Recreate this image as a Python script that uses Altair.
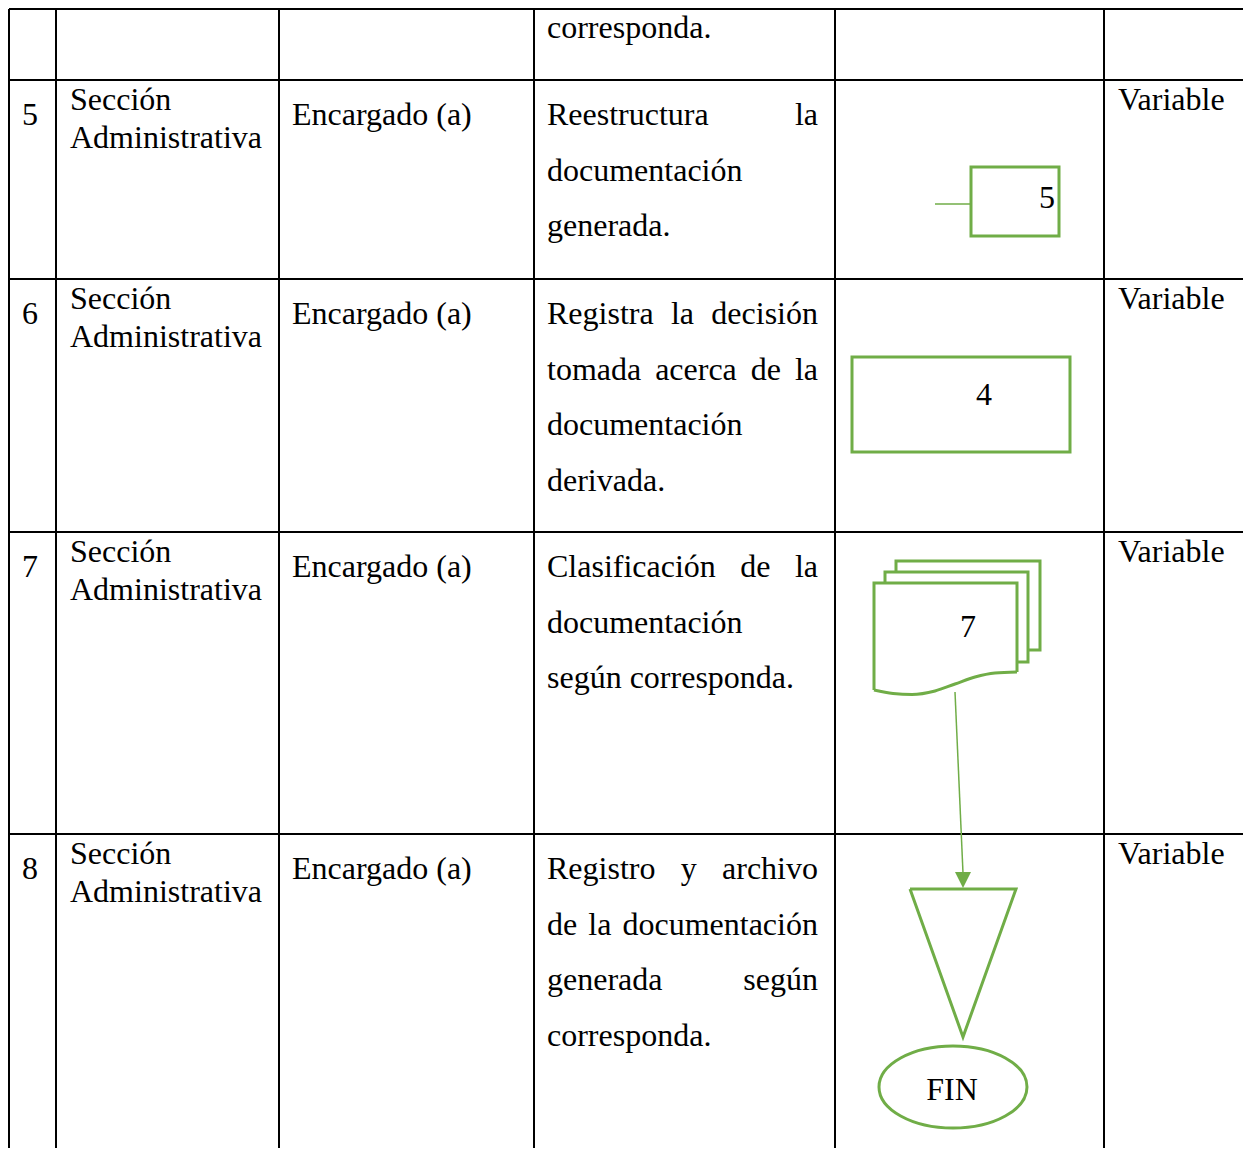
import altair as alt
import pandas as pd

GREEN = "#70AD47"
FONT = "Liberation Serif"
FS = 32

# ---- table structure (pixel positions of the scanned table) ----
col_edges = [9, 56, 279, 534, 835, 1104]
row_edges = [9, 80, 279, 532, 834]
table_right = 1251
table_bottom = 1156

# ---- cell contents ----
steps = ["", "5", "6", "7", "8"]
units = [[], ["Sección", "Administrativa"], ["Sección", "Administrativa"],
         ["Sección", "Administrativa"], ["Sección", "Administrativa"]]
responsible = ["", "Encargado (a)", "Encargado (a)", "Encargado (a)", "Encargado (a)"]
activities = [
    ["corresponda."],
    ["Reestructura la", "documentación", "generada."],
    ["Registra la decisión", "tomada acerca de la", "documentación", "derivada."],
    ["Clasificación de la", "documentación", "según corresponda."],
    ["Registro y archivo", "de la documentación", "generada según", "corresponda."],
]
times = ["", "Variable", "Variable", "Variable", "Variable"]

# ---- flowchart symbols ----
shape_labels = ["5", "4", "7", "FIN"]
shape_label_x = [1047, 984, 968, 952]
shape_label_y = [208, 405, 637, 1100]

boxes_x = [971, 852, 896, 885]
boxes_x2 = [1059, 1070, 1040, 1028]
boxes_y = [167, 357, 561, 572]
boxes_y2 = [236, 452, 650, 662]

doc_fill = dict(x=874, x2=1017, y=583, y2=673)
doc_outline_x = [1017, 1017, 874, 874]
doc_outline_y = [672, 583, 583, 690]
doc_wave_x = [874, 893, 912, 935, 955, 975, 995, 1017]
doc_wave_y = [690, 693.5, 694.5, 691, 684, 677, 673, 672]

tri_x = [910, 1016, 963, 910]
tri_y = [889, 889, 1037, 889]

conn_x = [935, 955]
conn_x2 = [971, 963]
conn_y = [204, 692]
conn_y2 = [204, 873]

arrow_x, arrow_y = [963], [880]
ellipse_x, ellipse_y, ellipse_rx = [953], [1087], 74

# Times New Roman advance widths (per 1000 em) used to justify lines
W = {' ': 250, '(': 333, ')': 333, '.': 250, 'a': 444, 'b': 500, 'c': 444, 'd': 500,
     'e': 444, 'f': 333, 'g': 500, 'h': 500, 'i': 278, 'j': 278, 'k': 500, 'l': 278,
     'm': 778, 'n': 500, 'o': 500, 'p': 500, 'q': 500, 'r': 333, 's': 389, 't': 278,
     'u': 500, 'v': 500, 'w': 722, 'x': 500, 'y': 500, 'z': 444, 'ó': 500, 'ú': 500,
     'A': 722, 'C': 667, 'E': 611, 'F': 556, 'I': 333, 'N': 722, 'R': 667, 'S': 556, 'V': 722}


def wwidth(s):
    return sum(W.get(c, 500) for c in s) * FS / 1000.0


left_txt, center_txt = [], []
ACT_L, ACT_R, ACT_LS = 547, 818, 55.5
for r in range(5):
    top = row_edges[r]
    if steps[r]:
        center_txt.append(dict(x=30, y=top + 45, t=steps[r]))
    for i, line in enumerate(units[r]):
        left_txt.append(dict(x=70, y=top + 30 + 38 * i, t=line))
    if responsible[r]:
        left_txt.append(dict(x=292, y=top + 45, t=responsible[r]))
    if times[r]:
        left_txt.append(dict(x=1118, y=top + 30, t=times[r]))
    lines = activities[r]
    if r == 0:
        base = row_edges[1] - 42 - ACT_LS * (len(lines) - 1)
    else:
        base = top + 45
    for i, line in enumerate(lines):
        y = base + ACT_LS * i
        words = line.split(" ")
        last = i == len(lines) - 1
        if last or len(words) == 1:
            left_txt.append(dict(x=ACT_L, y=y, t=line))
        else:
            tot = sum(wwidth(w) for w in words)
            gap = (ACT_R - ACT_L - tot) / (len(words) - 1)
            xx = ACT_L
            for w in words:
                left_txt.append(dict(x=xx, y=y, t=w))
                xx += wwidth(w) + gap

for t, x, y in zip(shape_labels, shape_label_x, shape_label_y):
    center_txt.append(dict(x=x, y=y, t=t))

# grid segments
segs = []
for cx in col_edges:
    segs.append(dict(x=cx, x2=cx, y=row_edges[0], y2=table_bottom))
for ry in row_edges:
    segs.append(dict(x=col_edges[0], x2=table_right, y=ry, y2=ry))

xs = alt.Scale(domain=[10, 1243], nice=False, zero=False)
ys = alt.Scale(domain=[10, 1148], reverse=True, nice=False, zero=False)


def X(f):
    return alt.X(f, type="quantitative", scale=xs, axis=None)


def Y(f):
    return alt.Y(f, type="quantitative", scale=ys, axis=None)


grid = alt.Chart(pd.DataFrame(segs)).mark_rule(color="black", strokeWidth=2).encode(
    x=X("x"), x2="x2", y=Y("y"), y2="y2")

txt_left = alt.Chart(pd.DataFrame(left_txt)).mark_text(
    font=FONT, fontSize=FS, align="left", baseline="alphabetic", color="black"
).encode(x=X("x"), y=Y("y"), text="t:N")

txt_center = alt.Chart(pd.DataFrame(center_txt)).mark_text(
    font=FONT, fontSize=FS, align="center", baseline="alphabetic", color="black"
).encode(x=X("x"), y=Y("y"), text="t:N")

boxes_df = pd.DataFrame(dict(x=boxes_x, x2=boxes_x2, y=boxes_y, y2=boxes_y2))
boxes = alt.Chart(boxes_df).mark_rect(fill="white", stroke=GREEN, strokeWidth=3).encode(
    x=X("x"), x2="x2", y=Y("y"), y2="y2")

front_fill = alt.Chart(pd.DataFrame([doc_fill])).mark_rect(fill="white", strokeWidth=0).encode(
    x=X("x"), x2="x2", y=Y("y"), y2="y2")

outline_df = pd.DataFrame(dict(x=doc_outline_x, y=doc_outline_y, i=range(len(doc_outline_x))))
outline = alt.Chart(outline_df).mark_line(color=GREEN, strokeWidth=3, strokeJoin="miter").encode(
    x=X("x"), y=Y("y"), order="i:Q")

wave_df = pd.DataFrame(dict(x=doc_wave_x, y=doc_wave_y, i=range(len(doc_wave_x))))
wave = alt.Chart(wave_df).mark_line(color=GREEN, strokeWidth=3, interpolate="monotone").encode(
    x=X("x"), y=Y("y"), order="i:Q")

tri_df = pd.DataFrame(dict(x=tri_x, y=tri_y, i=range(len(tri_x))))
tri = alt.Chart(tri_df).mark_line(color=GREEN, strokeWidth=3, strokeJoin="miter").encode(
    x=X("x"), y=Y("y"), order="i:Q")

conn = alt.Chart(pd.DataFrame(dict(x=conn_x, x2=conn_x2, y=conn_y, y2=conn_y2))).mark_rule(
    color=GREEN, strokeWidth=1.5).encode(x=X("x"), x2="x2", y=Y("y"), y2="y2")

arrow = alt.Chart(pd.DataFrame(dict(x=arrow_x, y=arrow_y))).mark_point(
    shape="M -1 -1 L 1 -1 L 0 1 Z", size=256, filled=True, fill=GREEN, opacity=1, strokeWidth=0
).encode(x=X("x"), y=Y("y"))

ellipse = alt.Chart(pd.DataFrame(dict(x=ellipse_x, y=ellipse_y))).mark_point(
    shape="M -1 0 A 1 0.554 0 1 1 1 0 A 1 0.554 0 1 1 -1 0 Z",
    size=(2 * ellipse_rx) ** 2, filled=False, stroke=GREEN, strokeWidth=3, opacity=1
).encode(x=X("x"), y=Y("y"))

chart = alt.layer(
    grid, txt_left, boxes, front_fill, outline, wave, tri, conn, arrow, ellipse, txt_center
).properties(
    width=1233, height=1138,
    padding={"left": 2, "top": 2, "right": 0, "bottom": 0},
    autosize="none", background="white"
).configure_view(strokeWidth=0)

chart.save("out.html", embed_options={"renderer": "svg", "actions": False})
